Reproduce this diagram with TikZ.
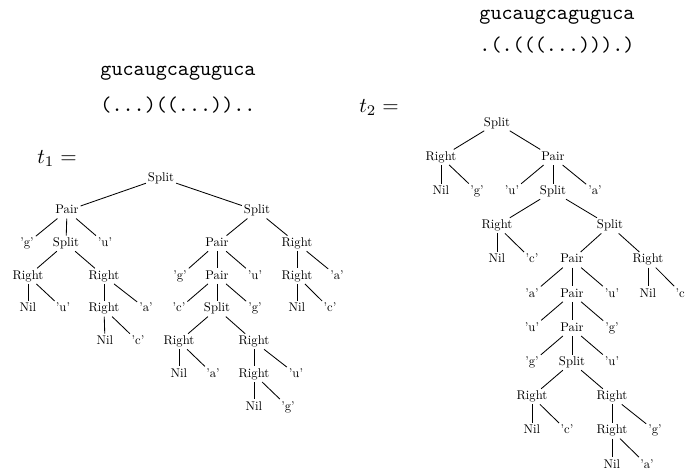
\documentclass[tikz,border=0pt]{standalone}
\newcommand{\lab}[1]{\scalebox{0.6}{#1}}
\begin{document}
\begin{tikzpicture}[x=0.474pt, y=-0.474pt,
        lbl/.style={inner sep=0.8pt, text height=4.2pt, text depth=1.2pt},
        seq/.style={anchor=base, inner sep=0pt, font=\ttfamily}]
    \clip (0,0) rectangle (685,471);
    % strings and names
    \node[seq] (s1) at (178,75) {gucaugcaguguca};
    \node[seq] (d1) at (178,111) {(...)((...))..};
    \node[seq] (s2) at (557,19) {gucaugcaguguca};
    \node[seq] (d2) at (557,51) {.(.(((...))).)};
    \node[anchor=base, inner sep=0pt] (n1) at (57,163) {$t_1 =$};
    \node[anchor=base, inner sep=0pt] (n2) at (379,112) {$t_2 =$};
    % first tree
    \foreach \n/\x/\y/\t in {
            a0/161/178/Split,
            a1/67/210.7/Pair, a2/257/210.7/Split,
            a3/27/243.4/'g', a4/66/243.4/Split, a5/105/243.4/'u', a6/217/243.4/Pair, a7/297/243.4/Right,
            a8/28/276.1/Right, a9/104/276.1/Right, a10/180/276.1/'g', a11/217/276.1/Pair,
            a12/255/276.1/'u', a13/297/276.1/Right, a14/337/276.1/'a',
            a15/28/308.8/Nil, a16/63/308.8/'u', a17/104/308.8/Right, a18/146/308.8/'a',
            a19/179/308.8/'c', a20/217/308.8/Split, a21/255/308.8/'g', a22/297/308.8/Nil, a23/330/308.8/'c',
            a24/105/341.5/Nil, a25/138/341.5/'c', a26/179/341.5/Right, a27/254/341.5/Right,
            a28/179/374.2/Nil, a29/213/374.2/'a', a30/254/374.2/Right, a31/296/374.2/'u',
            a32/254/406.9/Nil, a33/288/406.9/'g'}
        {
            \node[lbl] (\n) at (\x,\y) {\lab{\t}};
        }
    \foreach \u/\v in {a0/a1, a0/a2, a1/a3, a1/a4, a1/a5, a4/a8, a4/a9, a8/a15, a8/a16,
            a9/a17, a9/a18, a17/a24, a17/a25, a2/a6, a2/a7, a6/a10, a6/a11, a6/a12,
            a11/a19, a11/a20, a11/a21, a20/a26, a20/a27, a26/a28, a26/a29,
            a27/a30, a27/a31, a30/a32, a30/a33, a7/a13, a7/a14, a13/a22, a13/a23}
        {
            \draw (\u)--(\v);
        }
    % second tree
    \foreach \n/\x/\y/\t in {
            b0/497/123/Split,
            b1/441/157.2/Right, b2/553/157.2/Pair,
            b3/441/191.4/Nil, b4/477/191.4/'g', b5/512/191.4/'u', b6/553/191.4/Split, b7/595/191.4/'a',
            b8/497/225.6/Right, b9/610/225.6/Split,
            b10/497/259.8/Nil, b11/532/259.8/'c', b12/572/259.8/Pair, b13/648/259.8/Right,
            b14/532/294/'a', b15/572/294/Pair, b16/612/294/'u', b17/648/294/Nil, b18/682/294/'c',
            b19/532/328.2/'u', b20/572/328.2/Pair, b21/612/328.2/'g',
            b22/532/362.4/'g', b23/572/362.4/Split, b24/612/362.4/'u',
            b25/532/396.6/Right, b26/612/396.6/Right,
            b27/532/430.8/Nil, b28/567/430.8/'c', b29/612/430.8/Right, b30/655/430.8/'g',
            b31/612/465/Nil, b32/647/465/'a'}
        {
            \node[lbl] (\n) at (\x,\y) {\lab{\t}};
        }
    \foreach \u/\v in {b0/b1, b0/b2, b1/b3, b1/b4, b2/b5, b2/b6, b2/b7, b6/b8, b6/b9,
            b8/b10, b8/b11, b9/b12, b9/b13, b12/b14, b12/b15, b12/b16, b13/b17, b13/b18,
            b15/b19, b15/b20, b15/b21, b20/b22, b20/b23, b20/b24, b23/b25, b23/b26,
            b25/b27, b25/b28, b26/b29, b26/b30, b29/b31, b29/b32}
        {
            \draw (\u)--(\v);
        }
\end{tikzpicture}
\end{document}
